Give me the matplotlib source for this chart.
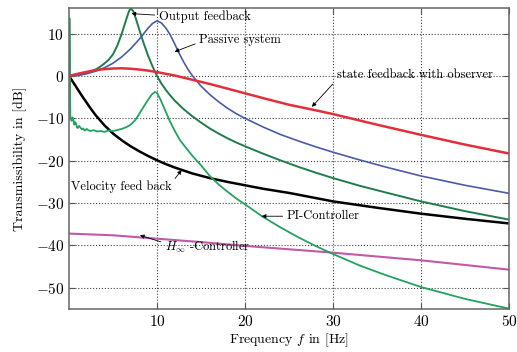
import matplotlib
matplotlib.use("Agg")
import matplotlib.pyplot as plt

plt.rcParams['font.family'] = 'serif'
plt.rcParams['font.serif'] = ['cmr10', 'DejaVu Serif']
plt.rcParams['mathtext.fontset'] = 'cm'
plt.rcParams['axes.formatter.use_mathtext'] = True
plt.rcParams['axes.unicode_minus'] = True

# transmissibility curves, frequency in Hz / magnitude in dB
f_passive = [0, 1, 2, 3, 4, 5, 6, 7, 8, 8.5, 9, 9.5, 10, 10.5, 11, 11.5, 12, 12.5, 13, 13.5, 14, 15, 16, 17, 18, 19, 20, 22, 24, 26, 28, 30, 33, 36, 40, 45, 50]
db_passive = [0, 0.1, 0.5, 1.1, 1.9, 3.0, 4.5, 6.4, 8.7, 10.0, 11.3, 12.4, 13.0, 12.5, 11.3, 9.7, 7.6, 5.4, 3.4, 1.6, 0.1, -2.4, -4.4, -6.1, -7.6, -8.9, -10.0, -12.0, -13.8, -15.3, -16.7, -18.0, -19.8, -21.5, -23.6, -25.8, -27.7]

f_state = [0, 1, 2, 3, 4, 5, 6, 7, 8, 9, 10, 11, 12, 13, 14, 15, 16, 18, 20, 22, 25, 28, 30, 35, 40, 45, 50]
db_state = [0, 0.5, 0.95, 1.35, 1.6, 1.75, 1.8, 1.7, 1.5, 1.25, 0.9, 0.5, 0.1, -0.4, -0.9, -1.4, -1.9, -3.0, -4.1, -5.2, -6.8, -8.1, -9.0, -11.5, -13.9, -16.2, -18.3]

f_output = [0, 1, 2, 3, 3.5, 4, 4.5, 5, 5.5, 6, 6.5, 6.8, 7.0, 7.3, 7.6, 8, 8.5, 9, 9.5, 10, 10.5, 11, 11.5, 12, 13, 14, 15, 16, 17, 18, 19, 20, 22, 24, 26, 28, 30, 33, 36, 40, 45, 50]
db_output = [0, 0.2, 0.7, 1.5, 2.1, 2.9, 3.8, 5.1, 7.2, 10.0, 13.3, 15.2, 16.0, 15.3, 13.5, 10.8, 7.6, 4.7, 2.2, 0.0, -1.8, -3.3, -4.6, -5.8, -7.8, -9.5, -11.0, -12.4, -13.6, -14.7, -15.7, -16.6, -18.3, -19.9, -21.4, -22.8, -24.1, -25.9, -27.5, -29.6, -31.9, -33.9]

f_velocity = [0, 0.25, 0.5, 0.75, 1, 1.5, 2, 2.5, 3, 3.5, 4, 4.5, 5, 6, 7, 8, 9, 10, 11, 12, 13, 14, 16, 18, 20, 22, 25, 28, 30, 35, 40, 45, 50]
db_velocity = [0, -0.8, -1.6, -2.4, -3.2, -4.8, -6.3, -7.8, -9.2, -10.4, -11.6, -12.6, -13.6, -15.2, -16.6, -17.8, -18.9, -19.9, -20.8, -21.6, -22.3, -23.0, -24.1, -25.0, -25.8, -26.6, -27.6, -28.8, -29.6, -31.1, -32.5, -33.7, -34.8]

f_pi = [0.02, 0.05, 0.1, 0.15, 0.2, 0.3, 0.4, 0.5, 0.6, 0.7, 0.8, 0.9, 1.0, 1.15, 1.3, 1.45, 1.6, 1.8, 2.0, 2.2, 2.4, 2.8, 3.2, 3.6, 4.0, 4.5, 5.0, 5.4, 6.0, 6.6, 7.0, 7.5, 8.0, 8.5, 9.0, 9.4, 9.75, 10.0, 10.4, 10.8, 11.4, 12.0, 12.6, 13, 14, 15, 16, 17, 18, 19, 20, 22, 24, 26, 28, 30, 33, 36, 40, 45, 50]
db_pi = [0, 13.6, 4.0, -9.5, -10.2, -10.6, -9.8, -10.4, -11.5, -10.9, -11.2, -12.1, -12.3, -11.8, -12.2, -12.6, -12.4, -12.9, -12.5, -12.8, -13.0, -12.8, -13.1, -13.0, -13.2, -12.9, -13.0, -12.8, -12.5, -12.0, -11.5, -10.5, -8.9, -7.2, -5.6, -4.4, -3.8, -4.0, -5.6, -7.5, -10.4, -12.9, -15.1, -16.2, -18.8, -21.1, -23.6, -25.6, -27.3, -28.9, -30.3, -33.2, -35.7, -38.0, -40.1, -42.0, -44.7, -47.0, -49.8, -52.6, -54.9]

f_hinf = [0, 5, 10, 15, 20, 25, 30, 35, 40, 45, 50]
db_hinf = [-37.2, -37.6, -38.4, -39.2, -40.1, -40.9, -41.7, -42.6, -43.5, -44.6, -45.7]

fig = plt.figure(figsize=(5.17, 3.52), dpi=100)
ax = fig.add_axes([0.1335, 0.122, 0.851, 0.855])

ax.plot(f_hinf, db_hinf, color='#c05aa8', lw=1.5)
ax.plot(f_velocity, db_velocity, color='black', lw=1.8)
ax.plot(f_pi, db_pi, color='#22a35e', lw=1.3)
ax.plot(f_output, db_output, color='#1f7d4c', lw=1.4)
ax.plot(f_passive, db_passive, color='#4a5ca8', lw=1.2)
ax.plot(f_state, db_state, color='#e0303c', lw=1.8)

ax.set_xlim(0, 50)
ax.set_ylim(-55, 16)
ax.set_xticks([10, 20, 30, 40, 50])
ax.set_yticks([-50, -40, -30, -20, -10, 0, 10])
ax.grid(True, ls=':', color='#444444', lw=0.8)
ax.tick_params(direction='in', top=True, right=True, labelsize=11, length=4, color='#555555')
for s in ax.spines.values():
    s.set_color('#666666')
    s.set_linewidth(1.1)

ax.set_xlabel(r'Frequency $f$ in [Hz]', fontsize=10, labelpad=2)
ax.set_ylabel('Transmissibility in [dB]', fontsize=10, labelpad=6)

arr = dict(arrowstyle='-|>', color='black', lw=0.6, mutation_scale=6, shrinkA=1, shrinkB=0)
ax.annotate('Output feedback', xy=(7.1, 14.7), xytext=(10.2, 14.0), fontsize=9,
            va='center', ha='left', arrowprops=dict(arr, relpos=(0, 0.6)))
ax.annotate('Passive system', xy=(12.0, 5.7), xytext=(14.8, 8.5), fontsize=9,
            va='center', ha='left', arrowprops=dict(arr, relpos=(0, 0.3)))
ax.annotate('state feedback with observer', xy=(27.6, -7.3), xytext=(30.4, 0.2), fontsize=9,
            va='center', ha='left', arrowprops=dict(arr, relpos=(0, 0.1)))
ax.annotate('Velocity feed back', xy=(12.8, -22.2), xytext=(0.2, -26.2), fontsize=9,
            va='center', ha='left', arrowprops=dict(arr, relpos=(1, 0.8)))
ax.annotate('PI-Controller', xy=(21.9, -33.1), xytext=(24.75, -33.1), fontsize=9,
            va='center', ha='left', arrowprops=dict(arr, relpos=(0, 0.5)))
ax.annotate(r'$H_{\infty}$ -Controller', xy=(8.06, -37.6), xytext=(10.9, -40.4), fontsize=9,
            va='center', ha='left', arrowprops=dict(arr, relpos=(0, 0.75)))

fig.savefig('out.png', dpi=100)
